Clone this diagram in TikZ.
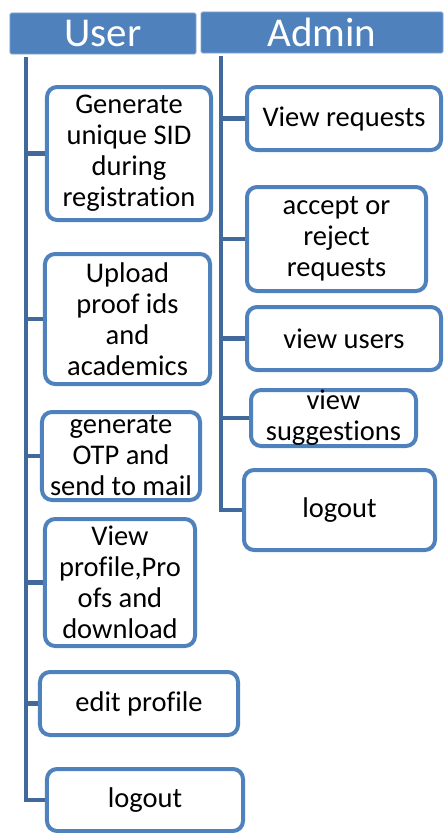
\documentclass[tikz,border=0pt]{standalone}
\usepackage{fontspec}
\setmainfont[Ligatures=NoCommon]{Carlito}
\usepackage{tikz}
\usetikzlibrary{positioning}

\definecolor{boxblue}{HTML}{4F81BD}
\definecolor{linkblue}{HTML}{41699C}

\begin{document}
\begin{tikzpicture}[
    x=1bp, y=-1bp,
    font=\fontsize{28.5bp}{31bp}\selectfont,
    header/.style={fill=boxblue, draw=boxblue!70!white, line width=0.8bp,
                   rounded corners=1.5bp, text=white, inner sep=0pt,
                   font=\fontsize{41bp}{44bp}\selectfont},
    task/.style={draw=boxblue, line width=4bp, rounded corners=10bp, fill=white,
                 align=center, inner sep=0pt},
    link/.style={draw=linkblue, line width=4.5bp, line join=miter}
]
\useasboundingbox (0,0) rectangle (445,833);

% headers
\node[header, minimum width=186bp, minimum height=41bp] (userhd) at (103,33.5) {User};
\node[header, minimum width=242bp, minimum height=41bp] (adminhd) at (322,32.5) {Admin};

% user side
\node[task, minimum width=164bp, minimum height=133bp] (u1) at (129,153.5)
    {Generate\\unique SID\\during\\registration};
\node[task, minimum width=165bp, minimum height=130bp] (u2) at (127.5,319)
    {Upload\\proof ids\\and\\academics};
\node[task, minimum width=158bp, minimum height=88bp] (u3) at (121,456)
    {generate\\OTP and\\send to mail};
\node[task, minimum width=150bp, minimum height=127bp] (u4) at (120,582.5)
    {View\\profile,Pro\\ofs and\\download};
\node[task, minimum width=198bp, minimum height=63bp] (u5) at (139,703.5)
    {edit profile};
\node[task, minimum width=196bp, minimum height=62bp] (u6) at (145,800)
    {logout};

% admin side
\node[task, minimum width=194bp, minimum height=63bp] (a1) at (344,118.5)
    {View requests};
\node[task, minimum width=179bp, minimum height=104bp] (a2) at (336.5,239)
    {accept or\\reject\\requests};
\node[task, minimum width=194bp, minimum height=63bp] (a3) at (344,338.5)
    {view users};
\node[task, minimum width=165bp, minimum height=56bp] (a4) at (333.5,418)
    {view\\suggestions};
\node[task, minimum width=191bp, minimum height=80bp] (a5) at (339.5,510)
    {logout};

% user tree
\coordinate (utop) at (26,57);
\draw[link] (utop) |- (u6.west);
\draw[link] (utop |- u1.west) -- (u1.west);
\draw[link] (utop |- u2.west) -- (u2.west);
\draw[link] (utop |- u3.west) -- (u3.west);
\draw[link] (utop |- u4.west) -- (u4.west);
\draw[link] (utop |- u5.west) -- (u5.west);

% admin tree
\coordinate (atop) at (221,56);
\draw[link] (atop) |- (a5.west);
\draw[link] (atop |- a1.west) -- (a1.west);
\draw[link] (atop |- a2.west) -- (a2.west);
\draw[link] (atop |- a3.west) -- (a3.west);
\draw[link] (atop |- a4.west) -- (a4.west);
\end{tikzpicture}
\end{document}
